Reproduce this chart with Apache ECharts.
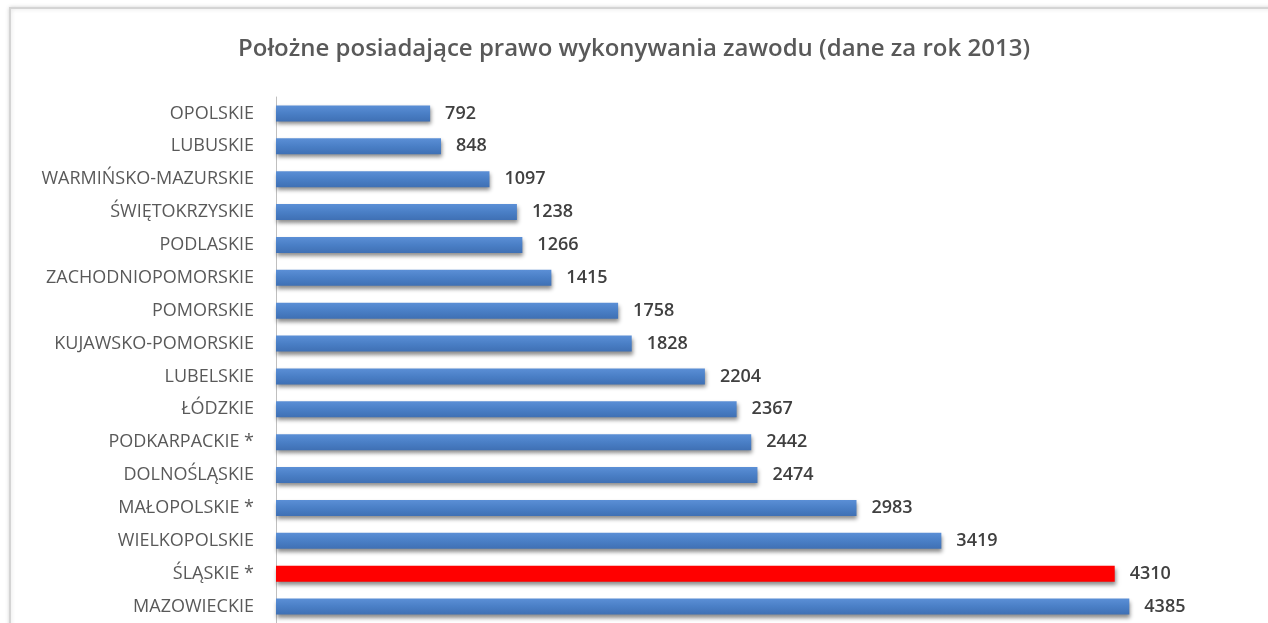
<!DOCTYPE html>
<html>
<head>
<meta charset="utf-8">
<script src="https://cdn.jsdelivr.net/npm/echarts@6/dist/echarts.min.js"></script>
<style>
  html, body { margin: 0; padding: 0; background: #fff; }
  #chart { width: 1268px; height: 623px; }
</style>
</head>
<body>
<div id="chart"></div>
<script>
// regions, top to bottom
const regions = ['OPOLSKIE', 'LUBUSKIE', 'WARMIŃSKO-MAZURSKIE', 'ŚWIĘTOKRZYSKIE', 'PODLASKIE',
  'ZACHODNIOPOMORSKIE', 'POMORSKIE', 'KUJAWSKO-POMORSKIE', 'LUBELSKIE', 'ŁÓDZKIE',
  'PODKARPACKIE *', 'DOLNOŚLĄSKIE', 'MAŁOPOLSKIE *', 'WIELKOPOLSKIE', 'ŚLĄSKIE *', 'MAZOWIECKIE']
const midwives = [792, 848, 1097, 1238, 1266, 1415, 1758, 1828, 2204, 2367, 2442, 2474, 2983, 3419, 4310, 4385]
const highlighted = 'ŚLĄSKIE *'

const chart = echarts.init(document.getElementById('chart'))

const blue = new echarts.graphic.LinearGradient(0, 0, 0, 1, [
  { offset: 0, color: '#5b8fd6' },
  { offset: 0.5, color: '#4a7fc6' },
  { offset: 1, color: '#3f70b4' }
])

const option = {
  animation: false,
  title: {
    text: 'Położne posiadające prawo wykonywania zawodu (dane za rok 2013)',
    left: 'center',
    top: 32,
    textStyle: {
      fontFamily: 'Open Sans',
      fontSize: 24,
      fontWeight: 600,
      color: '#595959'
    }
  },
  graphic: [{
    type: 'rect',
    z: -10,
    shape: { x: 10, y: 8, width: 1300, height: 700 },
    style: {
      fill: '#fff',
      stroke: '#d4d4d4',
      lineWidth: 2,
      shadowColor: 'rgba(0,0,0,0.15)',
      shadowBlur: 4
    }
  }],
  grid: { left: 276, top: 97, right: 19, height: 529 },
  xAxis: {
    type: 'value',
    min: 0,
    max: 5000,
    show: false
  },
  yAxis: {
    type: 'category',
    inverse: true,
    data: regions,
    axisLine: { lineStyle: { color: '#bfbfbf', width: 1 } },
    axisTick: { show: false },
    axisLabel: {
      margin: 22,
      fontFamily: 'Open Sans',
      fontSize: 18,
      color: '#595959'
    }
  },
  series: [{
    type: 'bar',
    barWidth: 16,
    data: midwives.map((v, i) => ({
      value: v,
      itemStyle: { color: regions[i] === highlighted ? '#ff0000' : blue }
    })),
    itemStyle: {
      shadowColor: 'rgba(0,0,0,0.45)',
      shadowBlur: 4,
      shadowOffsetY: 3,
      shadowOffsetX: 1
    },
    label: {
      show: true,
      position: 'right',
      distance: 15,
      fontFamily: 'Open Sans',
      fontSize: 18,
      fontWeight: 600,
      color: '#404040'
    }
  }]
}
chart.setOption(option)
</script>
</body>
</html>
